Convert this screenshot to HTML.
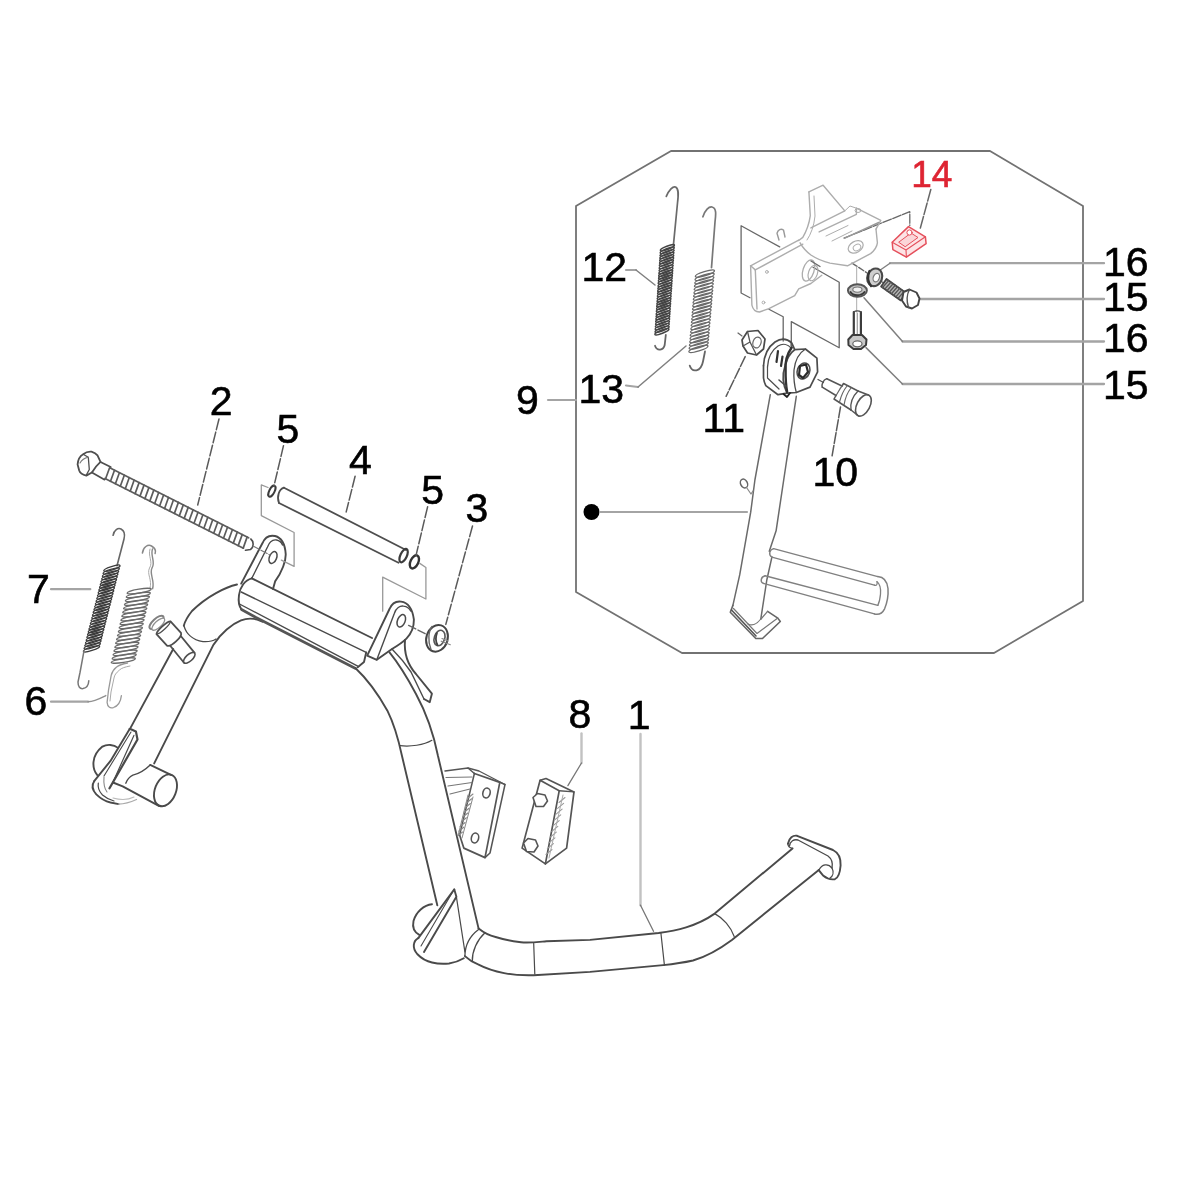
<!DOCTYPE html>
<html><head><meta charset="utf-8"><title>Parts diagram</title>
<style>
html,body{margin:0;padding:0;background:#fff;}
body{width:1180px;height:1180px;overflow:hidden;}
svg{display:block;font-family:"Liberation Sans",sans-serif;filter:blur(0.6px);}
svg path, svg line, svg polyline, svg polygon, svg ellipse, svg circle{stroke-linecap:round;stroke-linejoin:round;}
</style></head><body>
<svg width="1180" height="1180" viewBox="0 0 1180 1180">
<rect width="1180" height="1180" fill="#fff" stroke="none"/>
<path d="M671.0,151.0 L990.0,151.0 L1083.0,206.0 L1083.0,601.0 L994.0,653.0 L682.0,653.0 L576.0,592.0 L576.0,206.0 Z" stroke="#727272" stroke-width="1.8" fill="none" />
<path d="M548,400 L576,400" stroke="#a4a4a4" stroke-width="2.2" fill="none" />
<circle cx="591.5" cy="512" r="8" fill="#000" stroke="none"/>
<path d="M600,512 L747,512" stroke="#a4a4a4" stroke-width="2.2" fill="none" />
<path d="M1104,263.2 L890,263.2" stroke="#a4a4a4" stroke-width="2.3" fill="none" />
<path d="M890,263.2 L881,269.5" stroke="#808080" stroke-width="1.4" fill="none" />
<path d="M1104,299 L920,299" stroke="#a4a4a4" stroke-width="2.3" fill="none" />
<path d="M1104,341.5 L902.5,341.5" stroke="#a4a4a4" stroke-width="2.3" fill="none" />
<path d="M902.5,341.5 L864,297.7" stroke="#808080" stroke-width="1.5" fill="none" />
<path d="M1104,384 L902.5,384" stroke="#a4a4a4" stroke-width="2.3" fill="none" />
<path d="M902.5,384 L866,347.6" stroke="#808080" stroke-width="1.5" fill="none" />
<path d="M626,270 L636,270" stroke="#a4a4a4" stroke-width="2.2" fill="none" />
<path d="M636,270 L655,285" stroke="#808080" stroke-width="1.5" fill="none" />
<path d="M626,385.5 L638,387" stroke="#a4a4a4" stroke-width="2.2" fill="none" />
<path d="M638,387 L686,346" stroke="#808080" stroke-width="1.5" fill="none" />
<text x="911.2" y="187.3" font-size="37" fill="#de2432" stroke="#de2432" stroke-width="0.6">14</text>
<text x="1103" y="275.5" font-size="41" fill="#000" stroke="#000" stroke-width="0.6">16</text>
<text x="1103" y="311" font-size="41" fill="#000" stroke="#000" stroke-width="0.6">15</text>
<text x="1103" y="352" font-size="41" fill="#000" stroke="#000" stroke-width="0.6">16</text>
<text x="1103" y="399.3" font-size="41" fill="#000" stroke="#000" stroke-width="0.6">15</text>
<text x="581.5" y="280.5" font-size="41" fill="#000" stroke="#000" stroke-width="0.6">12</text>
<text x="578.5" y="402.8" font-size="41" fill="#000" stroke="#000" stroke-width="0.6">13</text>
<text x="516" y="413.5" font-size="41" fill="#000" stroke="#000" stroke-width="0.6">9</text>
<text x="702.5" y="431.6" font-size="41" fill="#000" stroke="#000" stroke-width="0.6">11</text>
<text x="812.5" y="485.6" font-size="41" fill="#000" stroke="#000" stroke-width="0.6">10</text>
<text x="209.8" y="414.5" font-size="41" fill="#000" stroke="#000" stroke-width="0.6">2</text>
<text x="276.5" y="442.5" font-size="41" fill="#000" stroke="#000" stroke-width="0.6">5</text>
<text x="349" y="474" font-size="41" fill="#000" stroke="#000" stroke-width="0.6">4</text>
<text x="421.3" y="504" font-size="41" fill="#000" stroke="#000" stroke-width="0.6">5</text>
<text x="465.5" y="522.3" font-size="41" fill="#000" stroke="#000" stroke-width="0.6">3</text>
<text x="27" y="603" font-size="41" fill="#000" stroke="#000" stroke-width="0.6">7</text>
<text x="24.5" y="715.3" font-size="41" fill="#000" stroke="#000" stroke-width="0.6">6</text>
<text x="568.6" y="728.3" font-size="41" fill="#000" stroke="#000" stroke-width="0.6">8</text>
<text x="627.7" y="728.8" font-size="41" fill="#000" stroke="#000" stroke-width="0.6">1</text>
<path d="M666.3,196.4 C669,190 673,186 675.5,187 C679,188.5 678.5,195 677.5,203 L673.4,245.3" stroke="#6a6a6a" stroke-width="1.7" fill="none" />
<g fill="none" stroke="#444" stroke-width="1.55"><ellipse cx="667.4" cy="247.8" rx="7.5" ry="1.6" transform="rotate(-21.2 667.4 247.8)"/><ellipse cx="667.2" cy="250.3" rx="7.5" ry="1.6" transform="rotate(-21.2 667.2 250.3)"/><ellipse cx="667.1" cy="252.9" rx="7.5" ry="1.6" transform="rotate(-21.2 667.1 252.9)"/><ellipse cx="666.9" cy="255.4" rx="7.5" ry="1.6" transform="rotate(-21.2 666.9 255.4)"/><ellipse cx="666.7" cy="257.9" rx="7.5" ry="1.6" transform="rotate(-21.2 666.7 257.9)"/><ellipse cx="666.6" cy="260.5" rx="7.5" ry="1.6" transform="rotate(-21.2 666.6 260.5)"/><ellipse cx="666.4" cy="263.0" rx="7.5" ry="1.6" transform="rotate(-21.2 666.4 263.0)"/><ellipse cx="666.2" cy="265.6" rx="7.5" ry="1.6" transform="rotate(-21.2 666.2 265.6)"/><ellipse cx="666.1" cy="268.1" rx="7.5" ry="1.6" transform="rotate(-21.2 666.1 268.1)"/><ellipse cx="665.9" cy="270.7" rx="7.5" ry="1.6" transform="rotate(-21.2 665.9 270.7)"/><ellipse cx="665.7" cy="273.2" rx="7.5" ry="1.6" transform="rotate(-21.2 665.7 273.2)"/><ellipse cx="665.6" cy="275.8" rx="7.5" ry="1.6" transform="rotate(-21.2 665.6 275.8)"/><ellipse cx="665.4" cy="278.3" rx="7.5" ry="1.6" transform="rotate(-21.2 665.4 278.3)"/><ellipse cx="665.2" cy="280.8" rx="7.5" ry="1.6" transform="rotate(-21.2 665.2 280.8)"/><ellipse cx="665.1" cy="283.4" rx="7.5" ry="1.6" transform="rotate(-21.2 665.1 283.4)"/><ellipse cx="664.9" cy="285.9" rx="7.5" ry="1.6" transform="rotate(-21.2 664.9 285.9)"/><ellipse cx="664.7" cy="288.5" rx="7.5" ry="1.6" transform="rotate(-21.2 664.7 288.5)"/><ellipse cx="664.6" cy="291.0" rx="7.5" ry="1.6" transform="rotate(-21.2 664.6 291.0)"/><ellipse cx="664.4" cy="293.6" rx="7.5" ry="1.6" transform="rotate(-21.2 664.4 293.6)"/><ellipse cx="664.2" cy="296.1" rx="7.5" ry="1.6" transform="rotate(-21.2 664.2 296.1)"/><ellipse cx="664.1" cy="298.7" rx="7.5" ry="1.6" transform="rotate(-21.2 664.1 298.7)"/><ellipse cx="663.9" cy="301.2" rx="7.5" ry="1.6" transform="rotate(-21.2 663.9 301.2)"/><ellipse cx="663.7" cy="303.7" rx="7.5" ry="1.6" transform="rotate(-21.2 663.7 303.7)"/><ellipse cx="663.6" cy="306.3" rx="7.5" ry="1.6" transform="rotate(-21.2 663.6 306.3)"/><ellipse cx="663.4" cy="308.8" rx="7.5" ry="1.6" transform="rotate(-21.2 663.4 308.8)"/><ellipse cx="663.2" cy="311.4" rx="7.5" ry="1.6" transform="rotate(-21.2 663.2 311.4)"/><ellipse cx="663.1" cy="313.9" rx="7.5" ry="1.6" transform="rotate(-21.2 663.1 313.9)"/><ellipse cx="662.9" cy="316.5" rx="7.5" ry="1.6" transform="rotate(-21.2 662.9 316.5)"/><ellipse cx="662.7" cy="319.0" rx="7.5" ry="1.6" transform="rotate(-21.2 662.7 319.0)"/><ellipse cx="662.6" cy="321.6" rx="7.5" ry="1.6" transform="rotate(-21.2 662.6 321.6)"/><ellipse cx="662.4" cy="324.1" rx="7.5" ry="1.6" transform="rotate(-21.2 662.4 324.1)"/><ellipse cx="662.2" cy="326.6" rx="7.5" ry="1.6" transform="rotate(-21.2 662.2 326.6)"/><ellipse cx="662.1" cy="329.2" rx="7.5" ry="1.6" transform="rotate(-21.2 662.1 329.2)"/><ellipse cx="661.9" cy="331.7" rx="7.5" ry="1.6" transform="rotate(-21.2 661.9 331.7)"/></g>
<path d="M665.8,335 L664.7,345 C663.5,350.5 657,351.5 655,345.8" stroke="#666" stroke-width="1.8" fill="none" />
<path d="M702.9,216.8 C705,210 709,206.5 712,207 C716.5,208 716,214 715,222 L711.5,267.6" stroke="#777" stroke-width="1.7" fill="none" />
<g fill="none" stroke="#6a6a6a" stroke-width="1.35"><ellipse cx="704.9" cy="273.6" rx="10.0" ry="2.0" transform="rotate(-17.1 704.9 273.6)"/><ellipse cx="704.6" cy="276.9" rx="10.0" ry="2.0" transform="rotate(-17.1 704.6 276.9)"/><ellipse cx="704.3" cy="280.2" rx="10.0" ry="2.0" transform="rotate(-17.1 704.3 280.2)"/><ellipse cx="704.0" cy="283.4" rx="10.0" ry="2.0" transform="rotate(-17.1 704.0 283.4)"/><ellipse cx="703.7" cy="286.7" rx="10.0" ry="2.0" transform="rotate(-17.1 703.7 286.7)"/><ellipse cx="703.5" cy="290.0" rx="10.0" ry="2.0" transform="rotate(-17.1 703.5 290.0)"/><ellipse cx="703.2" cy="293.3" rx="10.0" ry="2.0" transform="rotate(-17.1 703.2 293.3)"/><ellipse cx="702.9" cy="296.5" rx="10.0" ry="2.0" transform="rotate(-17.1 702.9 296.5)"/><ellipse cx="702.6" cy="299.8" rx="10.0" ry="2.0" transform="rotate(-17.1 702.6 299.8)"/><ellipse cx="702.3" cy="303.1" rx="10.0" ry="2.0" transform="rotate(-17.1 702.3 303.1)"/><ellipse cx="702.1" cy="306.3" rx="10.0" ry="2.0" transform="rotate(-17.1 702.1 306.3)"/><ellipse cx="701.8" cy="309.6" rx="10.0" ry="2.0" transform="rotate(-17.1 701.8 309.6)"/><ellipse cx="701.5" cy="312.9" rx="10.0" ry="2.0" transform="rotate(-17.1 701.5 312.9)"/><ellipse cx="701.2" cy="316.2" rx="10.0" ry="2.0" transform="rotate(-17.1 701.2 316.2)"/><ellipse cx="701.0" cy="319.4" rx="10.0" ry="2.0" transform="rotate(-17.1 701.0 319.4)"/><ellipse cx="700.7" cy="322.7" rx="10.0" ry="2.0" transform="rotate(-17.1 700.7 322.7)"/><ellipse cx="700.4" cy="326.0" rx="10.0" ry="2.0" transform="rotate(-17.1 700.4 326.0)"/><ellipse cx="700.1" cy="329.2" rx="10.0" ry="2.0" transform="rotate(-17.1 700.1 329.2)"/><ellipse cx="699.8" cy="332.5" rx="10.0" ry="2.0" transform="rotate(-17.1 699.8 332.5)"/><ellipse cx="699.6" cy="335.8" rx="10.0" ry="2.0" transform="rotate(-17.1 699.6 335.8)"/><ellipse cx="699.3" cy="339.1" rx="10.0" ry="2.0" transform="rotate(-17.1 699.3 339.1)"/><ellipse cx="699.0" cy="342.3" rx="10.0" ry="2.0" transform="rotate(-17.1 699.0 342.3)"/><ellipse cx="698.7" cy="345.6" rx="10.0" ry="2.0" transform="rotate(-17.1 698.7 345.6)"/><ellipse cx="698.4" cy="348.9" rx="10.0" ry="2.0" transform="rotate(-17.1 698.4 348.9)"/></g>
<path d="M705,351.5 L703,361.5 C701,372 692,373 689.7,365.6" stroke="#666" stroke-width="1.8" fill="none" />
<path d="M237,584.5 C226,587 207,596 192,611 C188,616 185,621 183.8,625.7" stroke="#4a4a4a" stroke-width="1.9" fill="none" />
<path d="M173.2,649 L130.8,727.4" stroke="#4a4a4a" stroke-width="1.9" fill="none" />
<path d="M262.4,621.7 C255,618 247,618 241,620.4 C232,624 221,633 213.5,644.7 L154.2,763.4" stroke="#4a4a4a" stroke-width="1.9" fill="none" />
<path d="M184,626 C186,633 192,640 203,641.6 C209,642 213,641 216,639" stroke="#4a4a4a" stroke-width="1.3" fill="none" />
<path d="M150.2,764.9 L171.5,775.1" stroke="#4a4a4a" stroke-width="1.9" fill="none" />
<ellipse cx="165.5" cy="790.3" rx="10.5" ry="16.6" transform="rotate(21.5 165.5 790.3)" fill="none" stroke="#4a4a4a" stroke-width="1.9"/>
<path d="M159.3,806.1 L122.7,786.3 L113,782.5" stroke="#4a4a4a" stroke-width="1.9" fill="none" />
<path d="M150.2,764.9 C146,769 139,773.5 132.9,775.1 C129,777 127,780 125.8,783.2" stroke="#4a4a4a" stroke-width="1.4" fill="none" />
<path d="M129.8,728.8 L135.9,731.4 L137.5,739.5 L109.5,788.3" stroke="#4a4a4a" stroke-width="2.2" fill="none" />
<path d="M129.8,728.8 L110.5,760.9 L94.2,781.2" stroke="#4a4a4a" stroke-width="1.9" fill="none" />
<path d="M133.9,735.4 L112.5,783.2" stroke="#4a4a4a" stroke-width="1.2" fill="none" />
<path d="M131,732 L104,776" stroke="#4a4a4a" stroke-width="1.1" fill="none" />
<path d="M117.6,747.6 C114,744.5 107,744 102.4,746.6 C97,751 94,756 93.5,762 C93,768 94.5,772 97.3,775.1" stroke="#4a4a4a" stroke-width="1.9" fill="none" />
<path d="M94.2,781.2 C91.5,785 92.5,790 96.3,794.4 C101,799 106,801.5 110.5,802.5 L118.6,804.1" stroke="#4a4a4a" stroke-width="1.9" fill="none" />
<path d="M98.3,783.2 C97.5,788 99.5,792 102.5,795 C106,798 110,800 114,801" stroke="#4a4a4a" stroke-width="1.2" fill="none" />
<path d="M104,777 C103.5,783 104,788 107,792" stroke="#888" stroke-width="1.1" fill="none" />
<path d="M118.6,804.1 C125,804 131,802 136.5,799.5" stroke="#aaa" stroke-width="1.3" fill="none" />
<path d="M113,798 C120,800 128,800 134,797" stroke="#bbb" stroke-width="1.1" fill="none" />
<path d="M251.8,578.3 L372,638" stroke="#4a4a4a" stroke-width="1.9" fill="none" />
<path d="M241.2,592 L366.2,652.4" stroke="#4a4a4a" stroke-width="1.4" fill="none" />
<path d="M239.5,604 L357.7,666.2" stroke="#4a4a4a" stroke-width="1.4" fill="none" />
<path d="M251.8,578.3 C245,580 240,587 239,595 C238,602 239,606 241.5,609.5" stroke="#4a4a4a" stroke-width="1.9" fill="none" />
<path d="M366.2,652.4 L364,662 L357.7,667.2" stroke="#4a4a4a" stroke-width="1.9" fill="none" />
<path d="M241.5,609.5 L256,617.5 L355.6,668.5" stroke="#555" stroke-width="2.6" fill="none" />
<path d="M241.2,583.6 L262.4,543.3 C265,537 270,535 275,536 C281,537.5 285,544 285.7,553.9 C286,561 282,572 275.1,581.4 L273,589" stroke="#4a4a4a" stroke-width="1.9" fill="none" />
<path d="M251.8,578.3 L267.5,547 C269.5,541.5 273,539.5 276.5,540 C279.5,540.5 281.5,542.5 282.5,545" stroke="#4a4a4a" stroke-width="1.4" fill="none" />
<ellipse cx="273" cy="557.5" rx="3.6" ry="6.2" transform="rotate(22 273 557.5)" fill="none" stroke="#4a4a4a" stroke-width="1.5"/>
<path d="M367.2,655.6 L389.5,609 C392,603 396,601 401,601.6 C408,602.5 412.5,609 413.9,619.6 C414,628 411,634 406.4,638.6 C402,643 397,646 392,649 L376.8,659.8 Z" stroke="#4a4a4a" stroke-width="1.9" fill="none" />
<path d="M376.8,659.8 L394.4,613.2 C396,608 400,605.5 403.6,606.1 C407,606.5 409.5,608.5 410.7,611" stroke="#4a4a4a" stroke-width="1.4" fill="none" />
<ellipse cx="401.3" cy="620.8" rx="3.8" ry="6.5" transform="rotate(22 401.3 620.8)" fill="none" stroke="#4a4a4a" stroke-width="1.5"/>
<path d="M405,640 C404,652 407,664 416,674 L431.9,693.7 L429.7,702.2 L424,699" stroke="#4a4a4a" stroke-width="1.9" fill="none" />
<path d="M392,649 C398,655 405,663 411,672 L424,699" stroke="#4a4a4a" stroke-width="1.4" fill="none" />
<path d="M389.5,652.4 C399,664 408,679 416,694 C428,716 434,736 438,756 L478.6,928.6" stroke="#4a4a4a" stroke-width="1.9" fill="none" />
<path d="M355.6,668.3 C366,678 378,694 387.4,710.7 C395,726 399,742 402,756 L437.3,905.3" stroke="#4a4a4a" stroke-width="1.9" fill="none" />
<path d="M400,745.6 C410,747 424,745 431.9,740.3" stroke="#4a4a4a" stroke-width="1.2" fill="none" />
<path d="M478.6,928.6 C484,933 489,935.5 495.6,937 C505,940 513,941.5 521,942.3 C530,943 538,942 546.4,941.3 L590,939.9 L658.6,933 C670,931.5 679,929.5 686.1,927.3 C697,924 707,919 714.7,913.6 L792.5,848.4" stroke="#4a4a4a" stroke-width="1.9" fill="none" />
<path d="M464.9,956.1 C469,960 473,962.5 478.6,964.6 C487,969 496,971.5 504.1,973.1 C514,975 524,975.5 533.7,975.2 L590,971.9 L663.2,965.1 C674,964 684,962.5 693,960.5 C708,956 721,948 731.9,939.9 L818.8,870.1" stroke="#4a4a4a" stroke-width="1.9" fill="none" />
<path d="M478.6,929.6 C470,936 465,946 464.9,956.1" stroke="#4a4a4a" stroke-width="1.3" fill="none" />
<path d="M485,932.8 C477,940 472,951 472.3,961.4" stroke="#4a4a4a" stroke-width="1.3" fill="none" />
<path d="M533.7,943.4 L534.8,974.1" stroke="#4a4a4a" stroke-width="1.2" fill="none" />
<path d="M660.9,933 L664.4,965.1" stroke="#4a4a4a" stroke-width="1.2" fill="none" />
<path d="M714.7,913.6 C723,918 731,927 734.2,936.5" stroke="#4a4a4a" stroke-width="1.2" fill="none" />
<path d="M787.9,843.8 C789,838 793,835 797.1,835.8 L833,850 C838,852.5 841,858 840.6,865.5 C840,873 838,878 834.9,879.2 C830,880 826,878 823.4,875.8 C821,873 819.5,871 818.8,870.1" stroke="#4a4a4a" stroke-width="1.9" fill="none" />
<path d="M789.5,846 C790,841 794,839 798,840 L828,856 C832,859 833,863 832,868" stroke="#4a4a4a" stroke-width="1.3" fill="none" />
<path d="M818.8,870.1 C822,864 828,863 832,868 C834,872 833,876 830,878" stroke="#4a4a4a" stroke-width="1.3" fill="none" />
<path d="M787.9,843.8 C788,846 790,848 792.5,848.4" stroke="#4a4a4a" stroke-width="1.3" fill="none" />
<path d="M454.3,889.4 L418.3,938.1" stroke="#4a4a4a" stroke-width="1.9" fill="none" />
<path d="M454.3,889.4 L456.4,896.8 L424,952" stroke="#4a4a4a" stroke-width="1.9" fill="none" />
<path d="M452,893 L421,946" stroke="#4a4a4a" stroke-width="1.1" fill="none" />
<path d="M432,904.2 C424,905 416,912 413.5,921 C412,928 414,932 419.3,934.9" stroke="#4a4a4a" stroke-width="1.9" fill="none" />
<path d="M418.3,938.1 C413,941 412,948 417.2,954 C422,959 427,961.5 432,962.5 C438,964 444,964 449,963.5 C455,962.5 460,960.5 463.8,958.2" stroke="#4a4a4a" stroke-width="1.9" fill="none" />
<path d="M456.4,896.8 L464.9,951.9" stroke="#4a4a4a" stroke-width="1.2" fill="none" />
<path d="M640.5,734 L640.5,905.2" stroke="#c2c2c2" stroke-width="2.4" fill="none" />
<path d="M640.5,905.2 L653.5,931.3" stroke="#777" stroke-width="1.3" fill="none" />
<path d="M77.6,464.4 C78,459 80,456 83.2,454.2 C86,452 89,451.5 91.4,451.7 C94,452.5 96,453.5 97.5,455.3 L100.5,461.9 C97,465 94,469 91.9,472.5 L86.3,475.6 C82,474.5 80,473 79.2,470.5 Z" stroke="#4e4e4e" stroke-width="1.8" fill="none" />
<path d="M88.3,457.3 L89.3,469.5 L86.3,475.1 M88.3,457.3 L83.2,454.2" stroke="#4e4e4e" stroke-width="1.3" fill="none" />
<path d="M80,463 C82,459.5 85,458 88.3,457.3" stroke="#777" stroke-width="1.1" fill="none" />
<path d="M100.5,461.9 L110.7,467 M91.9,472.5 L104.6,479.7" stroke="#4e4e4e" stroke-width="1.7" fill="none" />
<path d="M109.6,467.8 L105.6,478.8 M114.5,470.3 L110.5,481.3 M119.4,472.8 L115.4,483.7 M124.3,475.2 L120.3,486.2 M129.2,477.7 L125.3,488.7 M134.1,480.2 L130.2,491.2 M139.1,482.6 L135.1,493.6 M144.0,485.1 L140.0,496.1 M148.9,487.6 L144.9,498.6 M153.8,490.1 L149.8,501.1 M158.7,492.5 L154.7,503.5 M163.6,495.0 L159.6,506.0 M168.5,497.5 L164.6,508.5 M173.4,500.0 L169.5,511.0 M178.4,502.4 L174.4,513.4 M183.3,504.9 L179.3,515.9 M188.2,507.4 L184.2,518.4 M193.1,509.9 L189.1,520.8 M198.0,512.3 L194.0,523.3 M202.9,514.8 L198.9,525.8 M207.8,517.3 L203.9,528.3 M212.7,519.8 L208.8,530.7 M217.7,522.2 L213.7,533.2 M222.6,524.7 L218.6,535.7 M227.5,527.2 L223.5,538.2 M232.4,529.7 L228.4,540.6 M237.3,532.1 L233.3,543.1 M242.2,534.6 L238.2,545.6 M247.1,537.1 L243.2,548.1 " stroke="#5c5c5c" stroke-width="1.7" fill="none" />
<path d="M110.2,468.1 L248.6,537.8 M105.0,478.5 L243.4,548.2" stroke="#5c5c5c" stroke-width="1.7" fill="none" />
<path d="M250.8,539 C254,541.5 254,547 250.5,549.5 L245.5,550.3" stroke="#4e4e4e" stroke-width="1.6" fill="none" />
<path d="M253,546 L270,555" stroke="#777" stroke-width="1.2" fill="none" stroke-dasharray="7 2"/>
<path d="M219,419 L197.7,505" stroke="#5a5a5a" stroke-width="1.5" fill="none" stroke-dasharray="11 2.5"/>
<path d="M284,487.7 L406,550" stroke="#4e4e4e" stroke-width="1.8" fill="none" />
<path d="M279,503 L398.5,562.7" stroke="#4e4e4e" stroke-width="1.8" fill="none" />
<path d="M284,487.7 C279,489 276.5,497 279,503" stroke="#4e4e4e" stroke-width="1.8" fill="none" />
<ellipse cx="403.6" cy="555.6" rx="3.2" ry="7.2" transform="rotate(25 403.6 555.6)" fill="none" stroke="#3c3c3c" stroke-width="2.2"/>
<ellipse cx="271.9" cy="491.2" rx="2.6" ry="6" transform="rotate(27 271.9 491.2)" fill="none" stroke="#3c3c3c" stroke-width="2"/>
<ellipse cx="414.4" cy="561.9" rx="3.9" ry="7" transform="rotate(25 414.4 561.9)" fill="none" stroke="#333" stroke-width="2.4"/>
<path d="M283.5,445.7 L274,485.9" stroke="#5a5a5a" stroke-width="1.5" fill="none" stroke-dasharray="11 2.5"/>
<path d="M355.1,476.3 L346.2,511.9" stroke="#5a5a5a" stroke-width="1.5" fill="none" stroke-dasharray="11 2.5"/>
<path d="M427.6,506.8 L416.1,555.1" stroke="#5a5a5a" stroke-width="1.5" fill="none" stroke-dasharray="11 2.5"/>
<path d="M472.5,526 L445.8,624.4" stroke="#5a5a5a" stroke-width="1.5" fill="none" stroke-dasharray="11 2.5"/>
<path d="M268,487.5 L261.3,484.9 L261.3,515.6 L294.1,532.5 L294.1,566.4 L281.4,560.1" stroke="#999" stroke-width="1.3" fill="none" />
<path d="M419.8,563.4 L425.9,567.5 L425.9,599 L382.7,577.1 L382.7,611.2" stroke="#999" stroke-width="1.3" fill="none" />
<path d="M408.6,625.4 L427,634.6" stroke="#666" stroke-width="1.4" fill="none" stroke-dasharray="8 2.5"/>
<ellipse cx="437" cy="638.3" rx="10.6" ry="13.6" transform="rotate(18 437 638.3)" fill="#fff" stroke="#444" stroke-width="2"/>
<path d="M432,626.5 C428.5,631 427.5,641 431,649.5" stroke="#666" stroke-width="1.4" fill="none" />
<ellipse cx="439.5" cy="638" rx="5.2" ry="8" transform="rotate(18 439.5 638)" fill="none" stroke="#555" stroke-width="1.6"/>
<path d="M437,633 C435.5,637 435.8,642 437.5,645" stroke="#444" stroke-width="1.8" fill="none" />
<path d="M441.2,641.2 L450.3,644.7 M442,638.5 L448,641" stroke="#888" stroke-width="1.2" fill="none" />
<path d="M113.1,535.3 C114,530 118,527.5 121,529 C125,531 125,535 124,539 L117,565.8" stroke="#666" stroke-width="1.6" fill="none" />
<g fill="none" stroke="#3c3c3c" stroke-width="1.4"><ellipse cx="111.9" cy="568.2" rx="8.5" ry="1.7" transform="rotate(-17.7 111.9 568.2)"/><ellipse cx="111.2" cy="571.0" rx="8.5" ry="1.7" transform="rotate(-17.7 111.2 571.0)"/><ellipse cx="110.5" cy="573.8" rx="8.5" ry="1.7" transform="rotate(-17.7 110.5 573.8)"/><ellipse cx="109.8" cy="576.5" rx="8.5" ry="1.7" transform="rotate(-17.7 109.8 576.5)"/><ellipse cx="109.1" cy="579.3" rx="8.5" ry="1.7" transform="rotate(-17.7 109.1 579.3)"/><ellipse cx="108.4" cy="582.1" rx="8.5" ry="1.7" transform="rotate(-17.7 108.4 582.1)"/><ellipse cx="107.7" cy="584.9" rx="8.5" ry="1.7" transform="rotate(-17.7 107.7 584.9)"/><ellipse cx="107.0" cy="587.6" rx="8.5" ry="1.7" transform="rotate(-17.7 107.0 587.6)"/><ellipse cx="106.3" cy="590.4" rx="8.5" ry="1.7" transform="rotate(-17.7 106.3 590.4)"/><ellipse cx="105.6" cy="593.2" rx="8.5" ry="1.7" transform="rotate(-17.7 105.6 593.2)"/><ellipse cx="104.9" cy="596.0" rx="8.5" ry="1.7" transform="rotate(-17.7 104.9 596.0)"/><ellipse cx="104.2" cy="598.8" rx="8.5" ry="1.7" transform="rotate(-17.7 104.2 598.8)"/><ellipse cx="103.5" cy="601.5" rx="8.5" ry="1.7" transform="rotate(-17.7 103.5 601.5)"/><ellipse cx="102.8" cy="604.3" rx="8.5" ry="1.7" transform="rotate(-17.7 102.8 604.3)"/><ellipse cx="102.1" cy="607.1" rx="8.5" ry="1.7" transform="rotate(-17.7 102.1 607.1)"/><ellipse cx="101.3" cy="609.9" rx="8.5" ry="1.7" transform="rotate(-17.7 101.3 609.9)"/><ellipse cx="100.6" cy="612.7" rx="8.5" ry="1.7" transform="rotate(-17.7 100.6 612.7)"/><ellipse cx="99.9" cy="615.5" rx="8.5" ry="1.7" transform="rotate(-17.7 99.9 615.5)"/><ellipse cx="99.2" cy="618.2" rx="8.5" ry="1.7" transform="rotate(-17.7 99.2 618.2)"/><ellipse cx="98.5" cy="621.0" rx="8.5" ry="1.7" transform="rotate(-17.7 98.5 621.0)"/><ellipse cx="97.8" cy="623.8" rx="8.5" ry="1.7" transform="rotate(-17.7 97.8 623.8)"/><ellipse cx="97.1" cy="626.6" rx="8.5" ry="1.7" transform="rotate(-17.7 97.1 626.6)"/><ellipse cx="96.4" cy="629.4" rx="8.5" ry="1.7" transform="rotate(-17.7 96.4 629.4)"/><ellipse cx="95.7" cy="632.1" rx="8.5" ry="1.7" transform="rotate(-17.7 95.7 632.1)"/><ellipse cx="95.0" cy="634.9" rx="8.5" ry="1.7" transform="rotate(-17.7 95.0 634.9)"/><ellipse cx="94.3" cy="637.7" rx="8.5" ry="1.7" transform="rotate(-17.7 94.3 637.7)"/><ellipse cx="93.6" cy="640.5" rx="8.5" ry="1.7" transform="rotate(-17.7 93.6 640.5)"/><ellipse cx="92.9" cy="643.2" rx="8.5" ry="1.7" transform="rotate(-17.7 92.9 643.2)"/><ellipse cx="92.2" cy="646.0" rx="8.5" ry="1.7" transform="rotate(-17.7 92.2 646.0)"/><ellipse cx="91.5" cy="648.8" rx="8.5" ry="1.7" transform="rotate(-17.7 91.5 648.8)"/></g>
<path d="M84,650.8 L80,672.5 L78,682 C78,687 80,689 83,688.6 C86,688 88.5,686 88.8,680.7" stroke="#777" stroke-width="1.5" fill="none" />
<path d="M142.4,553.1 C143,547 148,544 151.5,546 C155,548 156,551 155.1,553.5" stroke="#888" stroke-width="1.5" fill="none" />
<path d="M152.5,549 C150,556 156,562 152,568 C149,574 155,580 152.6,588.7" stroke="#888" stroke-width="1.4" fill="none" />
<path d="M150,549 C147.5,556 153.5,562 149.5,568 C146.5,574 152.5,580 150,588" stroke="#aaa" stroke-width="1.0" fill="none" />
<g fill="none" stroke="#6a6a6a" stroke-width="1.3"><ellipse cx="139.2" cy="591.1" rx="12.2" ry="2.0" transform="rotate(-9.1 139.2 591.1)"/><ellipse cx="138.3" cy="595.0" rx="12.2" ry="2.0" transform="rotate(-9.1 138.3 595.0)"/><ellipse cx="137.4" cy="598.8" rx="12.2" ry="2.0" transform="rotate(-9.1 137.4 598.8)"/><ellipse cx="136.5" cy="602.7" rx="12.2" ry="2.0" transform="rotate(-9.1 136.5 602.7)"/><ellipse cx="135.6" cy="606.5" rx="12.2" ry="2.0" transform="rotate(-9.1 135.6 606.5)"/><ellipse cx="134.8" cy="610.4" rx="12.2" ry="2.0" transform="rotate(-9.1 134.8 610.4)"/><ellipse cx="133.9" cy="614.2" rx="12.2" ry="2.0" transform="rotate(-9.1 133.9 614.2)"/><ellipse cx="133.0" cy="618.1" rx="12.2" ry="2.0" transform="rotate(-9.1 133.0 618.1)"/><ellipse cx="132.1" cy="621.9" rx="12.2" ry="2.0" transform="rotate(-9.1 132.1 621.9)"/><ellipse cx="131.2" cy="625.8" rx="12.2" ry="2.0" transform="rotate(-9.1 131.2 625.8)"/><ellipse cx="130.4" cy="629.7" rx="12.2" ry="2.0" transform="rotate(-9.1 130.4 629.7)"/><ellipse cx="129.5" cy="633.5" rx="12.2" ry="2.0" transform="rotate(-9.1 129.5 633.5)"/><ellipse cx="128.6" cy="637.4" rx="12.2" ry="2.0" transform="rotate(-9.1 128.6 637.4)"/><ellipse cx="127.7" cy="641.2" rx="12.2" ry="2.0" transform="rotate(-9.1 127.7 641.2)"/><ellipse cx="126.9" cy="645.1" rx="12.2" ry="2.0" transform="rotate(-9.1 126.9 645.1)"/><ellipse cx="126.0" cy="648.9" rx="12.2" ry="2.0" transform="rotate(-9.1 126.0 648.9)"/><ellipse cx="125.1" cy="652.8" rx="12.2" ry="2.0" transform="rotate(-9.1 125.1 652.8)"/><ellipse cx="124.2" cy="656.6" rx="12.2" ry="2.0" transform="rotate(-9.1 124.2 656.6)"/><ellipse cx="123.3" cy="660.5" rx="12.2" ry="2.0" transform="rotate(-9.1 123.3 660.5)"/></g>
<path d="M127.5,663 C122,664 119,665 116.6,667.1 C113,670 112,672 111.2,675.3 L108.5,690.2 L107.1,702.4 C107.5,707 110,708.5 113.5,707.5 C118,706 120.5,703 121.4,695.6" stroke="#999" stroke-width="1.3" fill="none" />
<path d="M130,666 C125,667 121.5,668 119.5,670 C116,673 114.5,675 114,678 L111,692 L110,701" stroke="#aaa" stroke-width="1.0" fill="none" />
<path d="M51,589.2 L90.3,589.2" stroke="#a4a4a4" stroke-width="2.2" fill="none" />
<path d="M51,701.7 L88,701.7" stroke="#a4a4a4" stroke-width="2.2" fill="none" />
<path d="M88,701.7 C95,701.5 100,698.5 105.8,695.6" stroke="#909090" stroke-width="1.4" fill="none" />
<ellipse cx="156.5" cy="622.3" rx="9" ry="3.6" transform="rotate(-42.5 156.5 622.3)" fill="#fff" stroke="#808080" stroke-width="2"/>
<ellipse cx="158.3" cy="624.2" rx="8.2" ry="3.2" transform="rotate(-42.5 158.3 624.2)" fill="#fff" stroke="#909090" stroke-width="1.3"/>
<path d="M170.5,621.3 L181.0,632.8 C182.6,636.7 170.8,647.6 167.0,645.6 L156.5,634.1 C156.7,630.6 167.0,621.1 170.5,621.3 Z" stroke="#4e4e4e" stroke-width="1.8" fill="#fff" />
<path d="M170.5,621.3 C170.3,624.8 160.0,634.3 156.5,634.1" stroke="#4e4e4e" stroke-width="1.3" fill="none" />
<path d="M180.8,636.0 L194.6,652.9 M170.2,645.7 L184.0,662.7" stroke="#4e4e4e" stroke-width="1.8" fill="none" />
<ellipse cx="189.3" cy="657.8" rx="7.2" ry="3.3" transform="rotate(-42.5 189.3 657.8)" fill="#fff" stroke="#4e4e4e" stroke-width="1.6"/>
<path d="M779.7,246.9 L741.1,225.8 L741.1,293 L750,297.7" stroke="#686868" stroke-width="1.3" fill="none" />
<path d="M768.9,309.2 L783.2,316.8 L783.2,338" stroke="#686868" stroke-width="1.3" fill="none" />
<path d="M791.3,346 L791.3,321.6 L839.2,347.8 L839.2,282.2 L813,267.2" stroke="#686868" stroke-width="1.3" fill="none" />
<path d="M844,238.1 L909.8,211.7 L909.8,225.5" stroke="#686868" stroke-width="1.3" fill="none" stroke-dasharray="9 1.5"/>
<path d="M852,263.1 L868,273.5" stroke="#686868" stroke-width="1.4" fill="none" stroke-dasharray="6 2"/>
<path d="M856.6,267 L856.6,284 M856.6,296 L856.6,312" stroke="#bbb" stroke-width="1.2" fill="none" />
<path d="M880.5,281 L885,283.8" stroke="#686868" stroke-width="1.3" fill="none" />
<path d="M750.6,265.8 L798.7,240.1 M755.3,269.9 L802.8,244.2" stroke="#adadad" stroke-width="1.4" fill="none" />
<path d="M750.6,265.8 L751.9,305.2 C753,310 756,312 759.4,312 L768.9,308.6 L794.7,295.7 L798.7,288.9 L810.9,283.5 L821.8,275.3" stroke="#adadad" stroke-width="1.4" fill="none" />
<path d="M755.3,269.9 L757,309" stroke="#adadad" stroke-width="1.4" fill="none" />
<path d="M750.6,265.8 L755.3,269.9" stroke="#adadad" stroke-width="1.4" fill="none" />
<path d="M808.9,191.9 L823.1,185.2 L844.8,210.9 L810.9,227.9" stroke="#adadad" stroke-width="1.4" fill="none" />
<path d="M808.9,191.9 L810.3,215.7 C809,225 806,232 802.8,237.4 L798.7,240.5" stroke="#adadad" stroke-width="1.4" fill="none" />
<path d="M814,196 L815,216 C814,226 811,234 807,240" stroke="#adadad" stroke-width="1.0" fill="none" />
<path d="M800.1,242.8 C803,248 807,252 810.9,255 C817,259 823,261.5 829.9,263.1 L847.5,265.8 L870.6,253.6 C875,250 877,246 877.4,242.8 L876,229.2" stroke="#adadad" stroke-width="1.4" fill="none" />
<path d="M856.4,208.2 L880.8,220.4 L876,229.2" stroke="#adadad" stroke-width="1.4" fill="none" />
<path d="M819.1,231.9 L856.4,214.3 L856.4,208.2" stroke="#adadad" stroke-width="1.4" fill="none" />
<path d="M844.8,238.1 L878.7,222.5" stroke="#999" stroke-width="1.4" fill="none" />
<path d="M826,236 L848,225.5 M832,241 L852,231" stroke="#adadad" stroke-width="1.0" fill="none" />
<path d="M844.8,210.9 L850,206 L856.4,208.2" stroke="#adadad" stroke-width="1.0" fill="none" />
<ellipse cx="855.7" cy="246.9" rx="8" ry="5.5" transform="rotate(-30 855.7 246.9)" fill="none" stroke="#adadad" stroke-width="1.2"/>
<ellipse cx="857" cy="247.5" rx="4" ry="3" transform="rotate(-30 857 247.5)" fill="none" stroke="#adadad" stroke-width="1"/>
<ellipse cx="858" cy="210.5" rx="3" ry="2" fill="none" stroke="#adadad" stroke-width="1"/>
<ellipse cx="808.5" cy="270.5" rx="5.5" ry="11" transform="rotate(18 808.5 270.5)" fill="none" stroke="#adadad" stroke-width="1.3"/>
<ellipse cx="813" cy="273" rx="4.5" ry="8" transform="rotate(18 813 273)" fill="none" stroke="#adadad" stroke-width="1.2"/>
<path d="M811,261 L820,266.5" stroke="#686868" stroke-width="1.4" fill="none" />
<path d="M777,233.3 C778,229.5 781,228.5 783.5,230 L785,237 M777,233.3 L779,240" stroke="#999" stroke-width="1.4" fill="none" />
<circle cx="766.9" cy="271.9" r="1.4" fill="none" stroke="#adadad" stroke-width="1"/>
<circle cx="763.5" cy="302.5" r="1.4" fill="none" stroke="#adadad" stroke-width="1"/>
<path d="M892.2,242.2 L908.5,226.6 L925.4,236.8 L926.1,243.6 L906.4,257.1 L892.9,249.7 Z" stroke="#e5505c" stroke-width="1.5" fill="#fde4e6" />
<path d="M892.2,242.2 L906,250 L925.4,236.8 M906,250 L906.4,257.1" stroke="#e5505c" stroke-width="1.1" fill="none" />
<path d="M899,242 L911,233 L918,237.5 L905.5,246.5 Z" stroke="#e5505c" stroke-width="1.0" fill="#fbd5d8" />
<circle cx="909.5" cy="232.5" r="2.6" fill="#fff" stroke="#e5505c" stroke-width="1"/>
<path d="M930.8,189.5 L920,229.3" stroke="#666" stroke-width="1.5" fill="none" stroke-dasharray="12 2"/>
<ellipse cx="874.7" cy="277.3" rx="7.4" ry="9" transform="rotate(20 874.7 277.3)" fill="#cfcfcf" stroke="#4a4a4a" stroke-width="2.1"/>
<ellipse cx="876.3" cy="277.6" rx="3" ry="4.4" transform="rotate(20 876.3 277.6)" fill="#fff" stroke="#777" stroke-width="1.2"/>
<path d="M869.5,271 C867.5,276 868,282 871,286" stroke="#333" stroke-width="2.2" fill="none" />
<ellipse cx="857.4" cy="290.6" rx="9.5" ry="6.3" fill="#c4c4c4" stroke="#555" stroke-width="1.9"/>
<ellipse cx="857.4" cy="289.6" rx="4.6" ry="2.6" fill="#f2f2f2" stroke="#777" stroke-width="1.1"/>
<path d="M850.5,292 C853,296 861,296.5 864.5,292" stroke="#3a3a3a" stroke-width="2.0" fill="none" />
<path d="M886.5,279.0 L906.1,292.9 L900.8,300.4 L881.1,286.6 Z" stroke="#444" stroke-width="1.8" fill="#b5b5b5" />
<path d="M888.7,280.6 L882.5,287.5 M890.9,282.2 L884.7,289.1 M893.1,283.7 L886.9,290.7 M895.3,285.3 L889.2,292.2 M897.5,286.8 L891.4,293.8 M899.7,288.4 L893.6,295.3 M901.9,289.9 L895.8,296.9 M904.1,291.5 L898.0,298.4 " stroke="#555" stroke-width="1.3" fill="none" />
<path d="M903.5,292 L909.5,289.5 L916.5,292.5 L919.5,298.5 L918,305 L912,308.5 L906,306.5 L902,300.5 Z" stroke="#444" stroke-width="1.9" fill="#fff" />
<path d="M909.5,289.5 C907,294 906.5,301 908.5,307.5" stroke="#555" stroke-width="1.4" fill="none" />
<path d="M853.8,312 L853.8,335 M860.9,312 L860.9,335" stroke="#3c3c3c" stroke-width="2.2" fill="none" />
<path d="M857.3,313 L857.3,334" stroke="#999" stroke-width="1.2" fill="none" />
<path d="M853.8,312 C855.5,310.5 859,310.5 860.9,312" stroke="#4a4a4a" stroke-width="1.4" fill="none" />
<path d="M848.3,339.5 L852.5,335 L862,335 L866.5,339.5 L866,345 L861,349 L853.5,349 L848.5,345 Z" stroke="#3c3c3c" stroke-width="2.0" fill="#c8c8c8" />
<ellipse cx="857.4" cy="343.8" rx="4.6" ry="3" fill="#fff" stroke="#666" stroke-width="1.2"/>
<path d="M742,340 L747.5,331.5 L758,330.5 L765,339 L763.5,349 L756.5,355 L747.5,353 L743,346 Z" stroke="#4a4a4a" stroke-width="1.7" fill="#fff" />
<path d="M747.5,331.5 L750,342 L743,346 M750,342 L756.5,355" stroke="#555" stroke-width="1.3" fill="none" />
<ellipse cx="757" cy="342.5" rx="4" ry="5.5" transform="rotate(20 757 342.5)" fill="none" stroke="#666" stroke-width="1.3"/>
<path d="M738,333 L742,336" stroke="#666" stroke-width="1.2" fill="none" />
<path d="M745.2,356.6 L726.1,396.3" stroke="#5a5a5a" stroke-width="1.5" fill="none" stroke-dasharray="11 2"/>
<path d="M783.2,338 L783.2,341 M791.3,341 L791.3,346" stroke="#686868" stroke-width="1.4" fill="none" />
<path d="M763.5,365.8 C764,355 768,347 775,342 C781,338 787,338.5 791.7,342.9 L794.7,349.7" stroke="#4c4c4c" stroke-width="1.7" fill="none" />
<path d="M763.5,365.8 L763.5,378 C764,382 765,384 765.8,385.6 L778,394.7 L787.1,393.2" stroke="#4c4c4c" stroke-width="1.7" fill="none" />
<path d="M767.5,367 C768,358 772,350 778,346 C783,343 788,344.5 791,348" stroke="#4c4c4c" stroke-width="1.3" fill="none" />
<path d="M767.5,367 L767.5,378 L779,389" stroke="#4c4c4c" stroke-width="1.2" fill="none" />
<path d="M794.7,349.7 L805.4,349 L816.9,358.1 L817.6,371.9 L810,387.1 L796.3,392.5 L787.1,393.2 C783,385 782,375 785,366 C787,358 790,353 794.7,349.7 Z" stroke="#4c4c4c" stroke-width="1.7" fill="#fff" />
<path d="M805.4,349 C799,353 795,361 794,370 C793.5,378 794.5,386 796.3,392.5" stroke="#4c4c4c" stroke-width="1.3" fill="none" />
<ellipse cx="803.5" cy="371" rx="6.2" ry="8.2" transform="rotate(20 803.5 371)" fill="none" stroke="#4c4c4c" stroke-width="1.5"/>
<path d="M800,366 L806,364.5 L808,372 L803,378 L799,375 Z" stroke="#2a2a2a" stroke-width="2.2" fill="none" />
<path d="M778,351 L776.5,362 M782.5,356.5 L781,366" stroke="#333" stroke-width="2.2" fill="none" />
<path d="M791.7,347.5 C787,354 785,362 785.6,370.3 C785.5,378 786,386 787.1,391.7" stroke="#333" stroke-width="2.4" fill="none" />
<path d="M779,380 L786,386" stroke="#4c4c4c" stroke-width="1.6" fill="none" />
<path d="M783.5,394 L787,397 L790,393" stroke="#222" stroke-width="1.8" fill="none" />
<path d="M770.3,394.7 L754.9,480 L750.7,512.2 L739.7,574.9 L732.9,605.4" stroke="#6a6a6a" stroke-width="1.5" fill="none" />
<path d="M796.3,396.3 L783.7,480 L776.1,530.8 L769.3,551.2" stroke="#6a6a6a" stroke-width="1.5" fill="none" />
<path d="M771.9,557.1 L766.8,580 L760.8,619" stroke="#6a6a6a" stroke-width="1.5" fill="none" />
<path d="M732.9,605.4 L730.3,612.2 L755.8,638.5 L762.5,638.5 L780.3,621.5 L777.8,618.1 L767.6,611.4" stroke="#666" stroke-width="1.6" fill="none" />
<path d="M733.5,608.5 L757,633.5 L777.8,618.1" stroke="#777" stroke-width="1.2" fill="none" />
<path d="M731.5,610 L756,636" stroke="#555" stroke-width="1.6" fill="none" />
<path d="M760.8,619 C757,624 752,626 748,624" stroke="#777" stroke-width="1.2" fill="none" />
<path d="M767.6,611.4 L761,619" stroke="#777" stroke-width="1.2" fill="none" />
<path d="M773.6,548.6 L877.8,576.6 M771.9,557.1 L874.4,585.1" stroke="#808080" stroke-width="1.4" fill="none" />
<path d="M773.6,548.6 C769,550 768.5,555 771.9,557.1" stroke="#808080" stroke-width="1.4" fill="none" />
<path d="M765.1,575.8 L877.8,605.4 M763.4,583.4 L874.4,613.9" stroke="#808080" stroke-width="1.4" fill="none" />
<path d="M765.1,575.8 C760.5,577 760,582 763.4,583.4" stroke="#808080" stroke-width="1.4" fill="none" />
<path d="M877.8,576.6 C883,577 887,580 888,588.5 C888.5,596 887,603 884.6,608.8 C882.5,613 879,615 874.4,613.9" stroke="#808080" stroke-width="1.5" fill="none" />
<path d="M877,581.7 C880,584 881,588 880.5,594 C880,600 879,603 877.8,605.4" stroke="#808080" stroke-width="1.3" fill="none" />
<path d="M874.4,585.1 C877,586 877.5,583.5 877,581.7" stroke="#808080" stroke-width="1.2" fill="none" />
<ellipse cx="744" cy="483.5" rx="3.4" ry="4.6" transform="rotate(-25 744 483.5)" fill="#fff" stroke="#666" stroke-width="1.5"/>
<path d="M746.5,487.5 L751,494 L753,491" stroke="#888" stroke-width="1.2" fill="none" />
<path d="M818,379.5 L823.5,382.5" stroke="#555" stroke-width="1.3" fill="none" />
<path d="M826.8,378.7 L842,386 M822.2,387.1 L836,395.5" stroke="#555" stroke-width="1.5" fill="none" />
<path d="M826.8,378.7 C823,380 821.5,384.5 822.2,387.1" stroke="#555" stroke-width="1.4" fill="none" />
<path d="M842,386 L843.5,383.5 L858,391 M836,395.5 L834,399 L851,410" stroke="#555" stroke-width="1.5" fill="none" />
<path d="M842,386 C839.5,389 838,393 836,395.5 M847,386 C843,391 841,396 839.5,402 M851,388 C847,393 845,399 844,405" stroke="#666" stroke-width="1.2" fill="none" />
<ellipse cx="863.4" cy="405.4" rx="6.5" ry="11.6" transform="rotate(28 863.4 405.4)" fill="#fff" stroke="#555" stroke-width="1.6"/>
<path d="M858,391 L868.5,395 M851,410 L858.5,416" stroke="#555" stroke-width="1.5" fill="none" />
<path d="M858,391 C853,396 850,403 851,410" stroke="#555" stroke-width="1.3" fill="none" />
<path d="M840.5,407 L832.1,455.8" stroke="#5a5a5a" stroke-width="1.5" fill="none" stroke-dasharray="11 2"/>
<path d="M474.4,773.5 L499.8,782.4 L485,857.6 L463.8,848.1 L459.6,835" stroke="#555" stroke-width="1.7" fill="none" />
<path d="M499.8,782.4 L505,784.5 L490,853 L485,857.6" stroke="#555" stroke-width="1.5" fill="none" />
<path d="M474.4,773.5 L468,768 L445,771" stroke="#555" stroke-width="1.5" fill="none" />
<path d="M468,768 L479,771 L505,784.5" stroke="#555" stroke-width="1.3" fill="none" />
<path d="M474.4,773.5 L459.6,835" stroke="#555" stroke-width="1.5" fill="none" />
<path d="M446,777.5 L472,777 M448,786 L472,782.5 M450,794 L470,789" stroke="#777" stroke-width="1.2" fill="none" />
<ellipse cx="486.5" cy="793" rx="3.6" ry="5" transform="rotate(15 486.5 793)" fill="none" stroke="#555" stroke-width="1.6"/>
<ellipse cx="475" cy="838" rx="3.6" ry="5" transform="rotate(15 475 838)" fill="none" stroke="#555" stroke-width="1.6"/>
<path d="M468.0,798.0 L473.0,794.0 M466.7,802.8 L471.7,798.8 M465.4,807.5 L470.4,803.5 M464.1,812.2 L469.1,808.2 M462.8,817.0 L467.8,813.0 M461.4,821.8 L466.4,817.8 M460.1,826.5 L465.1,822.5 M458.8,831.2 L463.8,827.2 M457.5,836.0 L462.5,832.0 " stroke="#888" stroke-width="1.1" fill="none" />
<path d="M468,795 L458,836 M473,797 L462,838" stroke="#888" stroke-width="1.0" fill="none" />
<path d="M540.1,780.3 L559.2,790.8 L545.4,863.9 L522.1,848.1 Z" stroke="#555" stroke-width="1.7" fill="none" />
<path d="M540.1,780.3 L546,778.5 L574,791.9 L566.6,848.1 L545.4,863.9" stroke="#555" stroke-width="1.7" fill="none" />
<path d="M559.2,790.8 L574,791.9" stroke="#555" stroke-width="1.4" fill="none" />
<path d="M559.0,802.5 L565.0,797.5 M557.6,808.3 L563.6,803.3 M556.1,814.1 L562.1,809.1 M554.7,819.8 L560.7,814.8 M553.2,825.6 L559.2,820.6 M551.8,831.4 L557.8,826.4 M550.3,837.2 L556.3,832.2 M548.9,842.9 L554.9,837.9 M547.4,848.7 L553.4,843.7 M546.0,854.5 L552.0,849.5 " stroke="#999" stroke-width="1.1" fill="none" />
<path d="M563,795 L549,858" stroke="#aaa" stroke-width="1.0" fill="none" />
<path d="M533,797.5 L537.5,793.5 L545,795 L547.5,801 L543.5,806.5 L536,806.5 Z" stroke="#555" stroke-width="1.6" fill="#fff" />
<path d="M523.5,843 L528,838.5 L535.5,840 L538,846 L534,852 L526.5,851.5 Z" stroke="#555" stroke-width="1.6" fill="#fff" />
<path d="M581.5,733.5 L581.5,763" stroke="#c2c2c2" stroke-width="2.4" fill="none" />
<path d="M581.5,763 L567.9,785.6" stroke="#777" stroke-width="1.3" fill="none" />
</svg>
</body></html>
